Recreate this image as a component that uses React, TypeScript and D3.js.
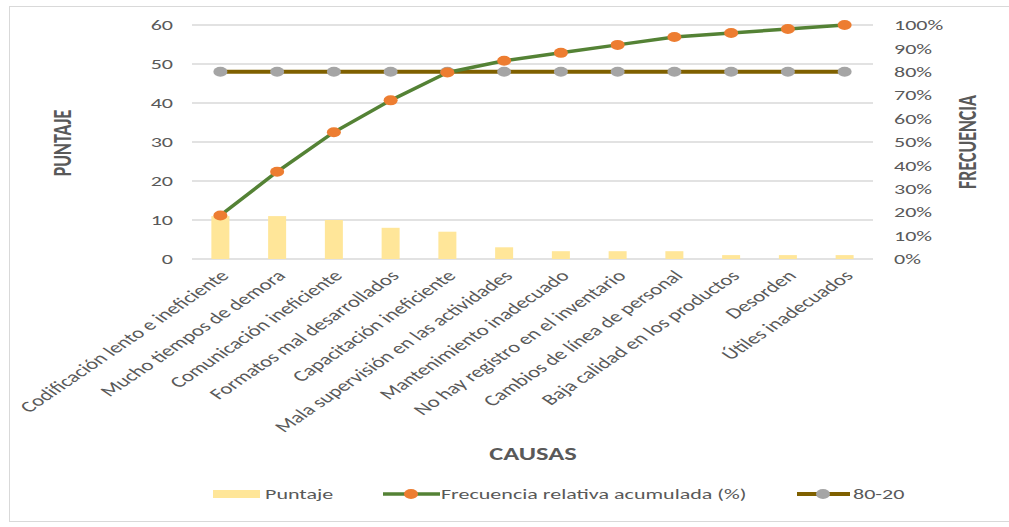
import * as d3 from "d3";

const categories = [
  "Codificación lento e ineficiente",
  "Mucho tiempos de demora",
  "Comunicación ineficiente",
  "Formatos mal desarrollados",
  "Capacitación ineficiente",
  "Mala supervisión en las actividades",
  "Mantenimiento inadecuado",
  "No hay registro en el inventario",
  "Cambios de línea de personal",
  "Baja calidad en los productos",
  "Desorden",
  "Útiles inadecuados",
];
const puntaje = [11, 11, 10, 8, 7, 3, 2, 2, 2, 1, 1, 1];
const acumulada = [18.6, 37.3, 54.2, 67.8, 79.7, 84.7, 88.1, 91.5, 94.9, 96.6, 98.3, 100];
const pareto = [80, 80, 80, 80, 80, 80, 80, 80, 80, 80, 80, 80];
const leftTicks = [0, 10, 20, 30, 40, 50, 60];
const rightTicks = [0, 10, 20, 30, 40, 50, 60, 70, 80, 90, 100];

const W = 1009;
const H = 527;
// the picture is stretched sideways, so text is widened by this factor
const S = 1.47;
const font = "Carlito, 'Liberation Sans', sans-serif";
const grey = "#595959";

function Txt({ x, y, anchor = "start", size = 15, bold = false, rot = 0, children }: any) {
  return (
    <text
      transform={`translate(${x},${y}) scale(${S},1) rotate(${rot})`}
      textAnchor={anchor}
      dy="0.35em"
      fontSize={size}
      fontWeight={bold ? "bold" : "normal"}
      fill={grey}
      fontFamily={font}
    >
      {children}
    </text>
  );
}

export default function App() {
  const x = d3.scaleBand<string>().domain(categories).range([192, 873]);
  const yL = d3.scaleLinear().domain([0, 60]).range([259, 25]);
  const yR = d3.scaleLinear().domain([0, 100]).range([259, 25]);
  const cx = (c: string) => (x(c) ?? 0) + x.bandwidth() / 2;
  const barW = 18;

  const line = d3
    .line<number>()
    .x((d, i) => cx(categories[i]))
    .y((d) => yR(d));

  return (
    <svg width={W} height={H} style={{ position: "absolute", left: 0, top: 0 }}>
      <rect x={9.5} y={6.5} width={1010} height={515} fill="white" stroke="#d9d9d9" />

      {leftTicks.map((t) => (
        <line key={t} x1={192} x2={873} y1={yL(t)} y2={yL(t)} stroke="#d9d9d9" strokeWidth={1.5} />
      ))}

      {leftTicks.map((t) => (
        <Txt key={t} x={173} y={yL(t)} anchor="end">
          {t}
        </Txt>
      ))}
      {rightTicks.map((t) => (
        <Txt key={t} x={894} y={yR(t)}>
          {t}%
        </Txt>
      ))}

      {puntaje.map((v, i) => (
        <rect
          key={i}
          x={cx(categories[i]) - barW / 2}
          y={yL(v)}
          width={barW}
          height={yL(0) - yL(v)}
          fill="#FFE699"
        />
      ))}

      <path d={line(pareto) ?? ""} fill="none" stroke="#7F6000" strokeWidth={4} />
      {pareto.map((v, i) => (
        <ellipse key={i} cx={cx(categories[i])} cy={yR(v)} rx={7} ry={5} fill="#A5A5A5" />
      ))}

      <path d={line(acumulada) ?? ""} fill="none" stroke="#548235" strokeWidth={3.5} strokeLinejoin="round" />
      {acumulada.map((v, i) => (
        <ellipse key={i} cx={cx(categories[i])} cy={yR(v)} rx={7} ry={5} fill="#ED7D31" />
      ))}

      {categories.map((c) => (
        <Txt key={c} x={cx(c) + 4} y={273} anchor="end" size={15.5} rot={-45}>
          {c}
        </Txt>
      ))}

      <Txt x={62} y={143} anchor="middle" size={18} bold rot={-90}>
        PUNTAJE
      </Txt>
      <Txt x={967} y={142} anchor="middle" size={18} bold rot={-90}>
        FRECUENCIA
      </Txt>
      <Txt x={533} y={454} anchor="middle" size={18} bold>
        CAUSAS
      </Txt>

      <rect x={213} y={490} width={47} height={8} fill="#FFE699" />
      <Txt x={265} y={494}>Puntaje</Txt>
      <line x1={383} x2={440} y1={494} y2={494} stroke="#548235" strokeWidth={3.5} />
      <ellipse cx={411} cy={494} rx={7} ry={5} fill="#ED7D31" />
      <Txt x={441} y={494}>Frecuencia relativa acumulada (%)</Txt>
      <line x1={797} x2={850} y1={494} y2={494} stroke="#7F6000" strokeWidth={4} />
      <ellipse cx={823} cy={494} rx={7} ry={5} fill="#A5A5A5" />
      <Txt x={853} y={494}>80-20</Txt>
    </svg>
  );
}
